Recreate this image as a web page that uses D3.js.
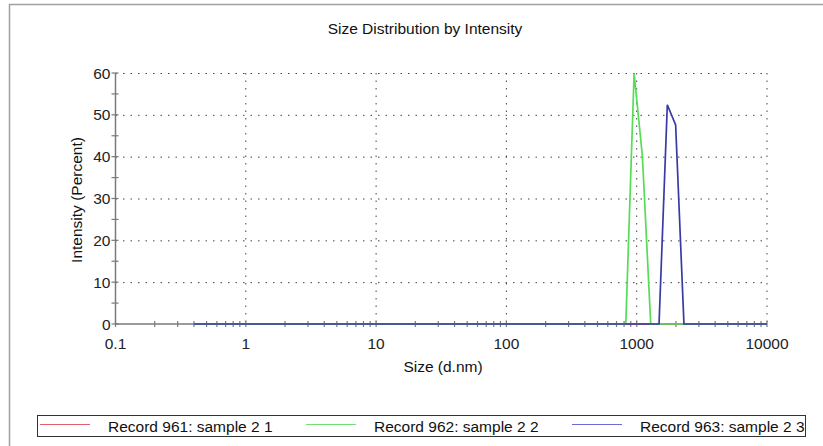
<!DOCTYPE html>
<html>
<head>
<meta charset="utf-8">
<script src="https://cdn.jsdelivr.net/npm/d3@7"></script>
<style>
  body { margin: 0; background: #fff; }
  svg { font-family: "Liberation Sans", Arial, sans-serif; }
</style>
</head>
<body>
<script>
// size bins (d.nm)
var sizes = [0.4, 0.4632, 0.5365, 0.6213, 0.7195, 0.8332, 0.9649, 1.117, 1.294, 1.499,
  1.736, 2.010, 2.328, 2.696, 3.122, 3.615, 4.187, 4.849, 5.615, 6.503,
  7.531, 8.721, 10.10, 11.70, 13.54, 15.69, 18.17, 21.04, 24.36, 28.21,
  32.67, 37.84, 43.82, 50.75, 58.77, 68.06, 78.82, 91.28, 105.7, 122.4,
  141.8, 164.2, 190.1, 220.2, 255.0, 295.3, 342.0, 396.1, 458.7, 531.2,
  615.1, 712.4, 825.0, 955.4, 1106, 1281, 1484, 1718, 1990, 2305,
  2669, 3091, 3580, 4145, 4801, 5560, 6439, 7456, 8635, 10000];

function peak(obj) {
  return sizes.map(function(s) { return obj[s] || 0; });
}
var record961 = peak({});
var record962 = peak({825.0: 0, 955.4: 59.9, 1106: 40.1, 1281: 0});
var record963 = peak({1484: 0, 1718: 52.4, 1990: 47.6, 2305: 0});

var seriesNames = ["Record 961: sample 2 1", "Record 962: sample 2 2", "Record 963: sample 2 3"];
var seriesValues = [record961, record962, record963];
var seriesColors = ["#e05565", "#55dd55", "#3a3aa6"];
var legendColors = ["#e06070", "#70e070", "#6a6ad8"];

var xTicks = [0.1, 1, 10, 100, 1000, 10000];
var yTicks = [0, 10, 20, 30, 40, 50, 60];

var svgWidth = 823, svgHeight = 446;
var margin = {left: 115.5, right: 56, top: 73, bottom: 122};
var fontSize = 15.5;

var svg = d3.select("body").append("svg")
  .attr("width", svgWidth)
  .attr("height", svgHeight);

// outer frame (top + left only visible)
svg.append("path")
  .attr("d", "M9.5,446 L9.5,4.5 L823,4.5")
  .attr("fill", "none")
  .attr("stroke", "#a0a0a0")
  .attr("stroke-width", 1.5);

var x = d3.scaleLog().domain([0.1, 10000]).range([margin.left, svgWidth - margin.right]);
var y = d3.scaleLinear().domain([0, 60]).range([svgHeight - margin.bottom, margin.top]);

// grid
svg.append("g").selectAll("line.h")
  .data(yTicks.slice(1))
  .enter().append("line")
    .attr("x1", x(0.1)).attr("x2", x(10000))
    .attr("y1", d => y(d) + 0.5).attr("y2", d => y(d) + 0.5)
    .attr("stroke", "#444")
    .attr("stroke-dasharray", "1.5,6");
svg.append("g").selectAll("line.v")
  .data(xTicks.slice(1))
  .enter().append("line")
    .attr("x1", d => x(d)).attr("x2", d => x(d))
    .attr("y1", y(60)).attr("y2", y(0))
    .attr("stroke", "#444")
    .attr("stroke-dasharray", "1.5,6");

// minor ticks
var minorX = [];
for (var dec = 0.1; dec < 10000; dec *= 10) {
  for (var k = 2; k <= 9; k++) minorX.push(dec * k);
}
var minorY = [5, 15, 25, 35, 45, 55];

var axisColor = "#7a7a7a";

svg.append("line")
  .attr("x1", x(0.1)).attr("x2", x(10000))
  .attr("y1", y(0)).attr("y2", y(0))
  .attr("stroke", axisColor).attr("stroke-width", 1.5);
svg.append("line")
  .attr("x1", x(0.1)).attr("x2", x(0.1))
  .attr("y1", y(0)).attr("y2", y(60))
  .attr("stroke", axisColor).attr("stroke-width", 1.5);

svg.append("g").selectAll("line")
  .data(minorX.concat(xTicks))
  .enter().append("line")
    .attr("x1", d => x(d)).attr("x2", d => x(d))
    .attr("y1", y(0) - 3).attr("y2", y(0) + 3)
    .attr("stroke", axisColor).attr("stroke-width", 1.2);
svg.append("g").selectAll("line")
  .data(minorY.concat(yTicks))
  .enter().append("line")
    .attr("x1", x(0.1) - 4).attr("x2", x(0.1) + 3)
    .attr("y1", d => y(d)).attr("y2", d => y(d))
    .attr("stroke", axisColor).attr("stroke-width", 1.2);

// tick labels
svg.append("g").selectAll("text")
  .data(xTicks)
  .enter().append("text")
    .attr("x", d => x(d))
    .attr("y", y(0) + 25)
    .attr("text-anchor", "middle")
    .attr("font-size", fontSize)
    .attr("fill", "#222")
    .text(d => d);
svg.append("g").selectAll("text")
  .data(yTicks)
  .enter().append("text")
    .attr("x", x(0.1) - 5)
    .attr("y", d => y(d) + 5.5)
    .attr("text-anchor", "end")
    .attr("font-size", fontSize)
    .attr("fill", "#222")
    .text(d => d);

// titles
svg.append("text")
  .attr("x", 425).attr("y", 34)
  .attr("text-anchor", "middle")
  .attr("font-size", fontSize)
  .attr("fill", "#111")
  .text("Size Distribution by Intensity");
svg.append("text")
  .attr("x", 443).attr("y", 372)
  .attr("text-anchor", "middle")
  .attr("font-size", fontSize)
  .attr("fill", "#111")
  .text("Size (d.nm)");
svg.append("text")
  .attr("transform", "translate(82,200) rotate(-90)")
  .attr("text-anchor", "middle")
  .attr("font-size", fontSize)
  .attr("fill", "#111")
  .text("Intensity (Percent)");

// series
var line = d3.line()
  .x(d => x(d[0]))
  .y(d => y(d[1]));

seriesValues.forEach(function(vals, i) {
  svg.append("path")
    .datum(sizes.map((s, j) => [s, vals[j]]))
    .attr("fill", "none")
    .attr("stroke", seriesColors[i])
    .attr("stroke-width", 1.7)
    .attr("d", line);
});

// legend
svg.append("rect")
  .attr("x", 37.5).attr("y", 415.5)
  .attr("width", 768).attr("height", 21)
  .attr("fill", "none")
  .attr("stroke", "#333");

var legend = svg.append("g").selectAll("g")
  .data(seriesNames)
  .enter().append("g")
    .attr("transform", (d, i) => "translate(" + (40 + i * 266) + ",0)");
legend.append("line")
  .attr("x1", 0).attr("x2", 50)
  .attr("y1", 424.5).attr("y2", 424.5)
  .attr("stroke", (d, i) => legendColors[i]);
legend.append("text")
  .attr("x", 68).attr("y", 431.5)
  .attr("font-size", fontSize)
  .attr("fill", "#111")
  .text(d => d);
</script>
</body>
</html>
